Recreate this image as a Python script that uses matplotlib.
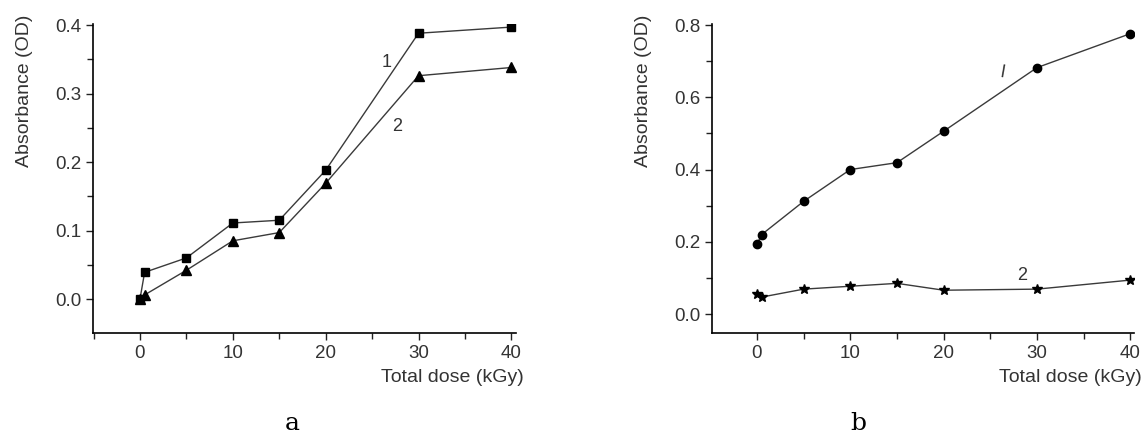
import matplotlib.pyplot as plt
from matplotlib.ticker import MultipleLocator

plt.rcParams['font.family'] = ['Liberation Sans', 'DejaVu Sans']

dose = [0, 0.5, 5, 10, 15, 20, 30, 40]

# panel a
a_curve1 = [0.0, 0.039, 0.060, 0.111, 0.115, 0.188, 0.388, 0.397]
a_curve2 = [0.0, 0.006, 0.042, 0.085, 0.097, 0.169, 0.326, 0.338]

# panel b
b_curve1 = [0.193, 0.220, 0.312, 0.400, 0.419, 0.506, 0.682, 0.776]
b_curve2 = [0.055, 0.047, 0.069, 0.077, 0.085, 0.066, 0.069, 0.094]

line_col = "#3a3a3a"
text_col = "#333333"

fig = plt.figure(figsize=(11.43, 4.33), dpi=100)
ax_a = fig.add_axes([93 / 1143, 100 / 433, 423 / 1143, 309 / 433])
ax_b = fig.add_axes([712 / 1143, 100 / 433, 422 / 1143, 309 / 433])


def style(ax, xlim, ylim, ymajor, yminor):
    ax.set_xlim(*xlim)
    ax.set_ylim(*ylim)
    ax.spines['top'].set_visible(False)
    ax.spines['right'].set_visible(False)
    ax.spines['left'].set_linewidth(1.2)
    ax.spines['bottom'].set_linewidth(1.2)
    ax.xaxis.set_major_locator(MultipleLocator(10))
    ax.xaxis.set_minor_locator(MultipleLocator(5))
    ax.yaxis.set_major_locator(MultipleLocator(ymajor))
    ax.yaxis.set_minor_locator(MultipleLocator(yminor))
    ax.yaxis.set_major_formatter(lambda v, p: f"{v:.1f}")
    ax.tick_params(which='major', length=5, width=1, labelsize=13.5, color="#222222", labelcolor=text_col)
    ax.tick_params(which='minor', length=4, width=1, color="#222222")
    ax.set_xlabel("Total dose (kGy)", fontsize=14, ha='right', va='center', color=text_col)
    ax.xaxis.set_label_coords(1 + 8 / 423, -44 / 309)


# a
ax_a.plot(dose, a_curve1, color=line_col, lw=1, marker='s', ms=6, mfc='black', mec='black')
ax_a.plot(dose, a_curve2, color=line_col, lw=1, marker='^', ms=6.5, mfc='black', mec='black')
style(ax_a, (-5.06, 40.5), (-0.0496, 0.4015), 0.1, 0.05)
ax_a.text(26.6, 0.345, "1", fontsize=13, color=text_col, ha='center', va='center')
ax_a.text(27.7, 0.252, "2", fontsize=13, color=text_col, ha='center', va='center')

# b
ax_b.plot(dose, b_curve1, color=line_col, lw=1, marker='o', ms=6, mfc='black', mec='black')
ax_b.plot(dose, b_curve2, color=line_col, lw=1, marker='*', ms=7, mfc='black', mec='black')
style(ax_b, (-4.82, 40.4), (-0.0524, 0.8028), 0.2, 0.1)
ax_b.text(26.3, 0.667, "l", fontsize=13, color=text_col, ha='center', va='center', rotation=-10)
ax_b.text(28.4, 0.108, "2", fontsize=13, color=text_col, ha='center', va='center')

# y labels placed in figure pixels
fig.text(25 / 1143, 1 - 15 / 433, "Absorbance (OD)", fontsize=14, rotation=90,
         ha='center', va='top', color=text_col)
fig.text(643 / 1143, 1 - 15 / 433, "Absorbance (OD)", fontsize=14, rotation=90,
         ha='center', va='top', color=text_col)

fig.text(292 / 1143, 1 - 423 / 433, "a", fontsize=18, family='DejaVu Serif', ha='center', va='center')
fig.text(858 / 1143, 1 - 423 / 433, "b", fontsize=18, family='DejaVu Serif', ha='center', va='center')

fig.savefig("out.png", dpi=100)
